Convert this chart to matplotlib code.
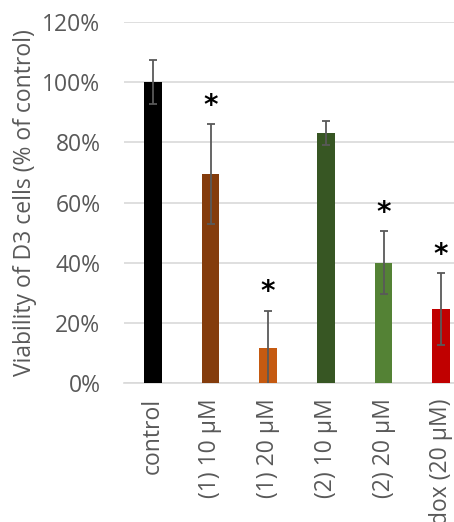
import matplotlib
matplotlib.use("Agg")
import matplotlib.pyplot as plt
from matplotlib.ticker import FuncFormatter

categories = ["control", "(1) 10 μM", "(1) 20 μM", "(2) 10 μM", "(2) 20 μM", "dox (20 μM)"]
values = [100, 69.5, 11.5, 83, 40, 24.5]
errors = [7.3, 16.5, 12.5, 4, 10.5, 12]
significant = [False, True, True, False, True, True]
colors = ["#000000", "#843C0C", "#C55A11", "#375623", "#548235", "#C00000"]
yticks = [0, 20, 40, 60, 80, 100, 120]

plt.rcParams['font.family'] = ['Open Sans', 'DejaVu Sans']
fig = plt.figure(figsize=(4.54, 5.22), dpi=100)
ax = fig.add_axes([124/454, 1-383/522, (470-124)/454, (383-22)/522])

x = range(len(categories))
ax.bar(x, values, width=0.31, color=colors, zorder=3)
ax.errorbar(x, values, yerr=errors, fmt='none', ecolor='#595959', elinewidth=1.3,
            capsize=3, capthick=1.3, zorder=4)
for i, (v, e, s) in enumerate(zip(values, errors, significant)):
    if s:
        ax.text(i, v + e + 1.5, "*", ha='center', va='bottom', fontsize=20,
                fontweight='bold', color='black', family=['DejaVu Sans'])

ax.set_xlim(-0.5, len(categories) - 0.5)
ax.set_ylim(0, 120)
ax.set_yticks(yticks)
ax.yaxis.set_major_formatter(FuncFormatter(lambda v, p: f"{v:.0f}%"))
ax.grid(axis='y', color='#D9D9D9', linewidth=1.2, zorder=0)
for sp in ['top', 'right', 'left']:
    ax.spines[sp].set_visible(False)
ax.spines['bottom'].set_color('#D9D9D9')
ax.spines['bottom'].set_linewidth(1.2)
ax.tick_params(axis='both', length=0, labelsize=16.5, colors='#595959')
ax.tick_params(axis='y', pad=17)
ax.tick_params(axis='x', pad=11)
ax.set_xticks(list(x))
ax.set_xticklabels(categories, rotation=90)
ax.set_ylabel("Viability of D3 cells (% of control)", fontsize=16.5, color='#595959', labelpad=4)

fig.savefig("out.png", dpi=100)
